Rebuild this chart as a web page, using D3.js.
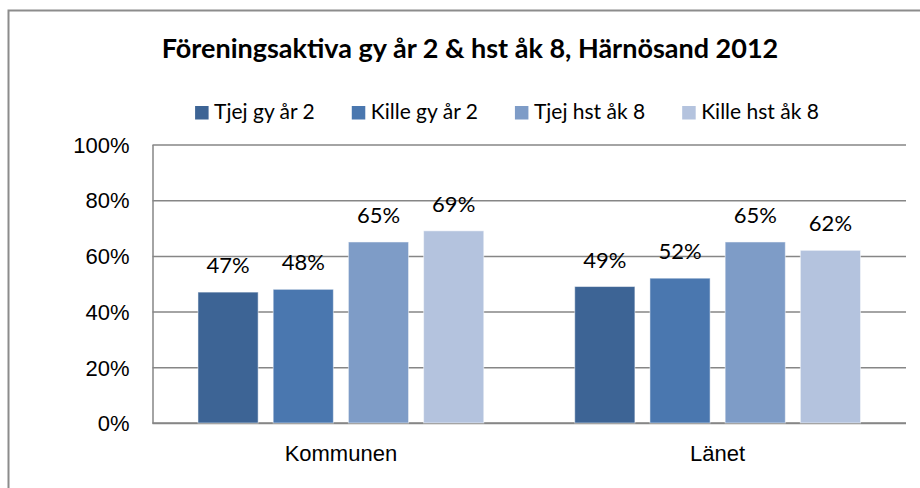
<!DOCTYPE html>
<html lang="sv">
<head>
<meta charset="UTF-8">
<title>Föreningsaktiva gy år 2 & hst åk 8, Härnösand 2012</title>
<script src="https://d3js.org/d3.v7.min.js"></script>
<style>
  body { margin: 0; background: #fff; }
  svg { display: block; font-family: Lato, "Open Sans", sans-serif; }
  .axis text { font-size: 22px; fill: #000; }
  .axis .domain { stroke: #868686; stroke-width: 1.5; }
  .grid line { stroke: #868686; stroke-width: 1.5; }
  .legend text { font-size: 21px; fill: #000; }
  .value { font-size: 22px; fill: #000; text-anchor: middle; }
</style>
</head>
<body>
<div id="chart"></div>
<script>
// data
const title = "Föreningsaktiva gy år 2 & hst åk 8, Härnösand 2012";
const categories = ["Kommunen", "Länet"];
const seriesNames = ["Tjej gy år 2", "Kille gy år 2", "Tjej hst åk 8", "Kille hst åk 8"];
const seriesColors = ["#3d6495", "#4a77af", "#7e9cc7", "#b4c3de"];
const kommunen = [0.47, 0.48, 0.65, 0.69];
const lanet = [0.49, 0.52, 0.65, 0.62];
const yTicks = [0, 0.2, 0.4, 0.6, 0.8, 1.0];

const values = [kommunen, lanet];

const W = 920, H = 488;
const plot = { left: 152.5, right: 906, top: 144.5, bottom: 423 };

const svg = d3.select("#chart").append("svg")
  .attr("width", W)
  .attr("height", H);

// outer chart border (right/bottom run off the picture)
svg.append("rect")
  .attr("x", 8.5).attr("y", 10.5)
  .attr("width", 1000).attr("height", 600)
  .attr("fill", "none")
  .attr("stroke", "#8c8c8c")
  .attr("stroke-width", 2);

// title
svg.append("text")
  .attr("x", 470)
  .attr("y", 58)
  .attr("text-anchor", "middle")
  .style("font-size", "27px")
  .style("font-weight", "bold")
  .text(title);

// scales
const y = d3.scaleLinear().domain([0, 1]).range([plot.bottom, plot.top]);
const x0 = d3.scaleBand().domain(categories).range([plot.left, plot.right]);
const gw = x0.bandwidth();
const x1 = d3.scaleBand().domain(seriesNames)
  .range([gw * 0.1207, gw * (1 - 0.1207)])
  .paddingInner(0.2);

// gridlines
svg.append("g")
  .attr("class", "grid")
  .attr("transform", `translate(${plot.left},0)`)
  .call(d3.axisLeft(y).tickValues(yTicks).tickSize(-(plot.right - plot.left)).tickFormat(""))
  .call(g => g.select(".domain").remove());

// y axis
svg.append("g")
  .attr("class", "axis")
  .attr("transform", `translate(${plot.left},0)`)
  .call(d3.axisLeft(y).tickValues(yTicks).tickSize(0).tickPadding(23).tickFormat(d3.format(".0%")))
  .call(g => g.selectAll("text").attr("dy", "0.35em"));

// x axis
svg.append("g")
  .attr("class", "axis")
  .attr("transform", `translate(0,${plot.bottom})`)
  .call(d3.axisBottom(x0).tickSize(0).tickPadding(22))
  .call(g => g.select(".domain").attr("d", `M${plot.left},0H${plot.right}`));

// bars
const groups = svg.append("g")
  .selectAll("g")
  .data(categories)
  .join("g")
  .attr("transform", d => `translate(${x0(d)},0)`);

groups.selectAll("rect")
  .data((d, i) => values[i].map((v, j) => ({ s: seriesNames[j], v, c: seriesColors[j] })))
  .join("rect")
  .attr("x", d => x1(d.s))
  .attr("y", d => y(d.v))
  .attr("width", x1.bandwidth())
  .attr("height", d => y(0) - y(d.v))
  .attr("fill", d => d.c)
  .attr("stroke", "rgba(255,255,255,0.5)")
  .attr("stroke-width", 1);

groups.selectAll("text")
  .data((d, i) => values[i].map((v, j) => ({ s: seriesNames[j], v })))
  .join("text")
  .attr("class", "value")
  .attr("x", d => x1(d.s) + x1.bandwidth() / 2)
  .attr("y", d => y(d.v) - 19)
  .text(d => d3.format(".0%")(d.v));

// legend
const legend = svg.append("g").attr("class", "legend");
const items = legend.selectAll("g")
  .data(seriesNames)
  .join("g");
items.append("rect")
  .attr("y", 106)
  .attr("width", 13.5)
  .attr("height", 13.5)
  .attr("fill", (d, i) => seriesColors[i]);
items.append("text")
  .attr("x", 19)
  .attr("y", 119)
  .text(d => d);

let cx = 0;
items.each(function () {
  const g = d3.select(this);
  g.attr("transform", `translate(${cx},0)`);
  cx += 19 + g.select("text").node().getComputedTextLength() + 37;
});
const legendWidth = cx - 37;
legend.attr("transform", `translate(${507 - legendWidth / 2},0)`);
</script>
</body>
</html>
